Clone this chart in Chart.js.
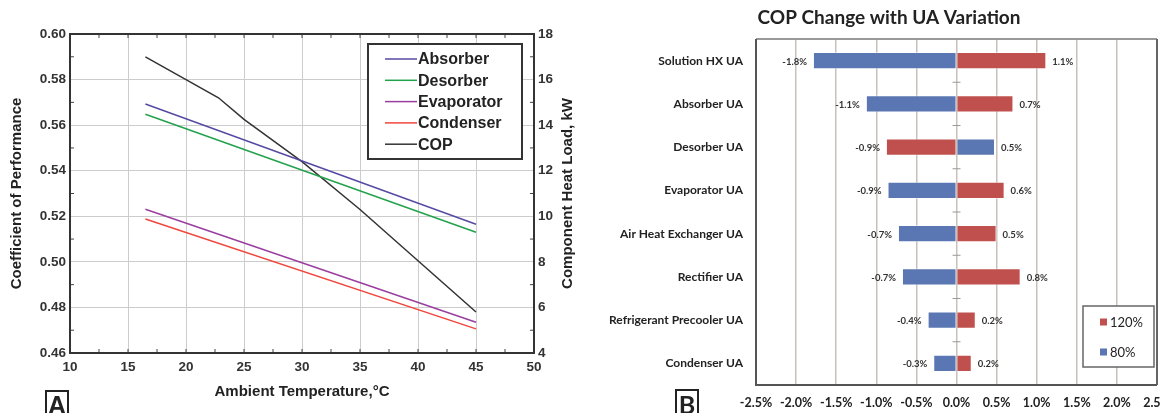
<!DOCTYPE html>
<html lang="en">
<head>
<meta charset="UTF-8">
<title>COP and component heat load / COP change with UA variation</title>
<script src="https://cdn.jsdelivr.net/npm/chart.js"></script>
<style>
    body {
        margin: 0;
        background: #fff;
        width: 1160px;
        height: 413px;
        overflow: hidden;
        position: relative;
        font-family: 'Liberation Sans', Arial, sans-serif;
    }
    #chartA { position: absolute; left: 0; top: 0; }
    #chartB { position: absolute; left: 590px; top: 0; }
    .panel-tag {
        position: absolute;
        width: 20px;
        height: 26px;
        border: 2px solid #222;
        font-weight: bold;
        font-size: 25px;
        line-height: 27px;
        text-align: center;
        color: #222;
    }
</style>
</head>
<body>
<canvas id="chartA" width="590" height="413"></canvas>
<canvas id="chartB" width="570" height="413"></canvas>
<div class="panel-tag" style="left:45px; top:390px;">A</div>
<div class="panel-tag" style="left:675px; top:389px; font-family: Lato, sans-serif;">B</div>

<script>
    // ---- panel A data ----
    const copTemp = [16.5, 20, 22.8, 25, 30, 35, 40, 45];
    const copValues = [0.590, 0.580, 0.572, 0.5625, 0.544, 0.523, 0.5005, 0.478];

    const loadTemp = [16.5, 45];
    const absorberLoad = [14.93, 9.65];
    const desorberLoad = [14.48, 9.30];
    const evaporatorLoad = [10.31, 5.35];
    const condenserLoad = [9.88, 5.06];

    // ---- panel B data ----
    const uaCategories = [
        'Solution HX UA', 'Absorber UA', 'Desorber UA', 'Evaporator UA',
        'Air Heat Exchanger UA', 'Rectifier UA', 'Refrigerant Precooler UA', 'Condenser UA'
    ];
    const change120 = [1.12, 0.71, -0.88, 0.60, 0.50, 0.80, 0.24, 0.19];
    const change80 = [-1.79, -1.13, 0.48, -0.86, -0.73, -0.68, -0.36, -0.29];
    const pctTicks = [-2.5, -2.0, -1.5, -1.0, -0.5, 0.0, 0.5, 1.0, 1.5, 2.0, 2.5];

    const arial = "'Liberation Sans', Arial, sans-serif";
    const lato = "Lato, 'Open Sans', sans-serif";

    function toPoints(xs, ys) {
        return xs.map((x, i) => ({ x: x, y: ys[i] }));
    }

    // frame, inner minor ticks, right title and the boxed legend of panel A
    const panelAExtras = {
        id: 'panelAExtras',
        afterDraw(chart) {
            const ctx = chart.ctx;
            const a = chart.chartArea;
            const sx = chart.scales.x;
            const sy2 = chart.scales.y2;
            ctx.save();

            ctx.strokeStyle = '#444';
            ctx.lineWidth = 1;
            ctx.beginPath();
            for (let i = 1; i < 16; i++) {
                const px = sx.getPixelForValue(10 + i * 2.5);
                ctx.moveTo(px, a.bottom); ctx.lineTo(px, a.bottom - 4);
                ctx.moveTo(px, a.top); ctx.lineTo(px, a.top + 4);
            }
            for (let k = 5; k < 18; k += 2) {
                const py = sy2.getPixelForValue(k);
                ctx.moveTo(a.left, py); ctx.lineTo(a.left + 4, py);
                ctx.moveTo(a.right, py); ctx.lineTo(a.right - 4, py);
            }
            ctx.stroke();

            ctx.strokeStyle = '#333';
            ctx.lineWidth = 2;
            ctx.strokeRect(a.left, a.top, a.right - a.left, a.bottom - a.top);

            // right axis title, reading upwards like the left one
            ctx.save();
            ctx.translate(568, (a.top + a.bottom) / 2);
            ctx.rotate(-Math.PI / 2);
            ctx.font = 'bold 15px ' + arial;
            ctx.fillStyle = '#222';
            ctx.textAlign = 'center';
            ctx.textBaseline = 'middle';
            ctx.fillText('Component Heat Load, kW', 0, 0);
            ctx.restore();

            // legend
            const lx = 368, ly = 44, lw = 154, lh = 115;
            ctx.fillStyle = '#fff';
            ctx.fillRect(lx, ly, lw, lh);
            ctx.strokeRect(lx, ly, lw, lh);
            ctx.font = 'bold 16px ' + arial;
            ctx.textBaseline = 'middle';
            ctx.textAlign = 'left';
            chart.data.datasets.forEach((ds, i) => {
                const y = 59 + i * 21.3;
                ctx.strokeStyle = ds.borderColor;
                ctx.lineWidth = 1.5;
                ctx.beginPath();
                ctx.moveTo(385, y);
                ctx.lineTo(417, y);
                ctx.stroke();
                ctx.fillStyle = '#222';
                ctx.fillText(ds.label, 418, y + 1);
            });
            ctx.restore();
        }
    };

    new Chart(document.getElementById('chartA'), {
        type: 'line',
        data: {
            datasets: [
                { label: 'Absorber', data: toPoints(loadTemp, absorberLoad), borderColor: '#554aa3', yAxisID: 'y2' },
                { label: 'Desorber', data: toPoints(loadTemp, desorberLoad), borderColor: '#22a24c', yAxisID: 'y2' },
                { label: 'Evaporator', data: toPoints(loadTemp, evaporatorLoad), borderColor: '#9a3d9f', yAxisID: 'y2' },
                { label: 'Condenser', data: toPoints(loadTemp, condenserLoad), borderColor: '#f0463c', yAxisID: 'y2' },
                { label: 'COP', data: toPoints(copTemp, copValues), borderColor: '#333333', yAxisID: 'y' }
            ]
        },
        options: {
            responsive: false,
            devicePixelRatio: 1,
            animation: false,
            layout: { padding: { top: 34, left: 0, right: 0, bottom: 0 } },
            elements: {
                line: { borderWidth: 1.5, tension: 0 },
                point: { radius: 0 }
            },
            plugins: {
                legend: { display: false },
                tooltip: { enabled: false }
            },
            scales: {
                x: {
                    type: 'linear',
                    min: 10,
                    max: 50,
                    ticks: { stepSize: 5, color: '#333', padding: 6, font: { family: arial, size: 13.5, weight: 'bold' } },
                    grid: { color: '#cccccc', drawTicks: false },
                    border: { display: false },
                    title: {
                        display: true,
                        text: 'Ambient Temperature,°C',
                        color: '#222',
                        font: { family: arial, size: 15, weight: 'bold' },
                        padding: { top: 0, bottom: 12 }
                    },
                    afterFit: s => { s.height = 60; s.paddingLeft = 0; s.paddingRight = 0; }
                },
                y: {
                    position: 'left',
                    min: 0.46,
                    max: 0.60,
                    ticks: {
                        stepSize: 0.02,
                        color: '#333',
                        padding: 4,
                        font: { family: arial, size: 13.5, weight: 'bold' },
                        callback: v => v.toFixed(2)
                    },
                    grid: { color: '#cccccc', drawTicks: false },
                    border: { display: false },
                    title: {
                        display: true,
                        text: 'Coefficient of Performance',
                        color: '#222',
                        font: { family: arial, size: 15, weight: 'bold' },
                        padding: { top: 8, bottom: 0 }
                    },
                    afterFit: s => { s.width = 70; }
                },
                y2: {
                    position: 'right',
                    min: 4,
                    max: 18,
                    ticks: { stepSize: 2, color: '#333', padding: 4, font: { family: arial, size: 13.5, weight: 'bold' } },
                    grid: { display: false, drawTicks: false },
                    border: { display: false },
                    afterFit: s => { s.width = 56; }
                }
            }
        },
        plugins: [panelAExtras]
    });

    // title, zero-line dashes, value labels, frame and legend of panel B
    const panelBExtras = {
        id: 'panelBExtras',
        afterDraw(chart) {
            const ctx = chart.ctx;
            const a = chart.chartArea;
            const sx = chart.scales.x;
            const sy = chart.scales.y;
            ctx.save();

            ctx.fillStyle = '#222';
            ctx.font = 'bold 19px ' + lato;
            ctx.textAlign = 'center';
            ctx.textBaseline = 'middle';
            ctx.fillText('COP Change with UA Variation', 299, 18);

            // frame
            ctx.lineWidth = 2;
            ctx.strokeStyle = '#999';
            ctx.beginPath(); ctx.moveTo(a.left, a.top); ctx.lineTo(a.right, a.top); ctx.stroke();
            ctx.strokeStyle = '#666';
            ctx.beginPath(); ctx.moveTo(a.right, a.top); ctx.lineTo(a.right, a.bottom); ctx.stroke();
            ctx.strokeStyle = '#555';
            ctx.beginPath();
            ctx.moveTo(a.left, a.top); ctx.lineTo(a.left, a.bottom); ctx.lineTo(a.right, a.bottom);
            ctx.stroke();

            // category separator dashes on the zero line
            const x0 = sx.getPixelForValue(0);
            ctx.strokeStyle = '#999';
            ctx.lineWidth = 1;
            ctx.beginPath();
            for (let i = 0; i < uaCategories.length - 1; i++) {
                const yb = (sy.getPixelForValue(i) + sy.getPixelForValue(i + 1)) / 2;
                ctx.moveTo(x0 - 4, yb); ctx.lineTo(x0 + 4, yb);
            }
            ctx.stroke();

            // value labels
            ctx.font = 'bold 9.5px ' + lato;
            ctx.fillStyle = '#333';
            chart.data.datasets.forEach((ds, di) => {
                chart.getDatasetMeta(di).data.forEach((bar, j) => {
                    const v = ds.data[j];
                    const txt = v.toFixed(1) + '%';
                    if (v >= 0) {
                        ctx.textAlign = 'left';
                        ctx.fillText(txt, bar.x + 6, bar.y + 1);
                    } else {
                        ctx.textAlign = 'right';
                        ctx.fillText(txt, bar.x - 6, bar.y + 1);
                    }
                });
            });

            // legend
            const lx = 493, ly = 306, lw = 71, lh = 61;
            ctx.fillStyle = '#fff';
            ctx.fillRect(lx, ly, lw, lh);
            ctx.strokeStyle = '#666';
            ctx.lineWidth = 1.5;
            ctx.strokeRect(lx, ly, lw, lh);
            ctx.font = '13px ' + lato;
            ctx.textAlign = 'left';
            chart.data.datasets.forEach((ds, i) => {
                const y = 322 + i * 30;
                ctx.fillStyle = ds.backgroundColor;
                ctx.fillRect(510, y - 3.5, 7, 7);
                ctx.fillStyle = '#222';
                ctx.fillText(ds.label, 520, y + 1);
            });
            ctx.restore();
        }
    };

    new Chart(document.getElementById('chartB'), {
        type: 'bar',
        data: {
            labels: uaCategories,
            datasets: [
                { label: '120%', data: change120, backgroundColor: '#c0504d', borderColor: 'rgba(255,255,255,0.5)', borderWidth: 1 },
                { label: '80%', data: change80, backgroundColor: '#5b77b3', borderColor: 'rgba(255,255,255,0.5)', borderWidth: 1 }
            ]
        },
        options: {
            indexAxis: 'y',
            responsive: false,
            devicePixelRatio: 1,
            animation: false,
            layout: { padding: { top: 39, left: 0, right: 3, bottom: 0 } },
            categoryPercentage: 1,
            barPercentage: 0.4,
            plugins: {
                legend: { display: false },
                tooltip: { enabled: false }
            },
            scales: {
                x: {
                    stacked: true,
                    min: pctTicks[0],
                    max: pctTicks[pctTicks.length - 1],
                    afterBuildTicks: s => { s.ticks = pctTicks.map(v => ({ value: v })); },
                    ticks: {
                        color: '#222',
                        padding: 10,
                        maxRotation: 0,
                        autoSkip: false,
                        font: { family: lato, size: 12.5, weight: 'bold' },
                        callback: v => v.toFixed(1) + '%'
                    },
                    grid: { color: '#c9c0b9', lineWidth: 1.5, drawTicks: false },
                    border: { display: false },
                    afterFit: s => { s.height = 28; s.paddingLeft = 0; s.paddingRight = 0; }
                },
                y: {
                    stacked: true,
                    ticks: { color: '#222', padding: 13, font: { family: lato, size: 12, weight: 'bold' } },
                    grid: { display: false, drawTicks: false },
                    border: { display: false },
                    afterFit: s => { s.width = 166; }
                }
            }
        },
        plugins: [panelBExtras]
    });
</script>
</body>
</html>
